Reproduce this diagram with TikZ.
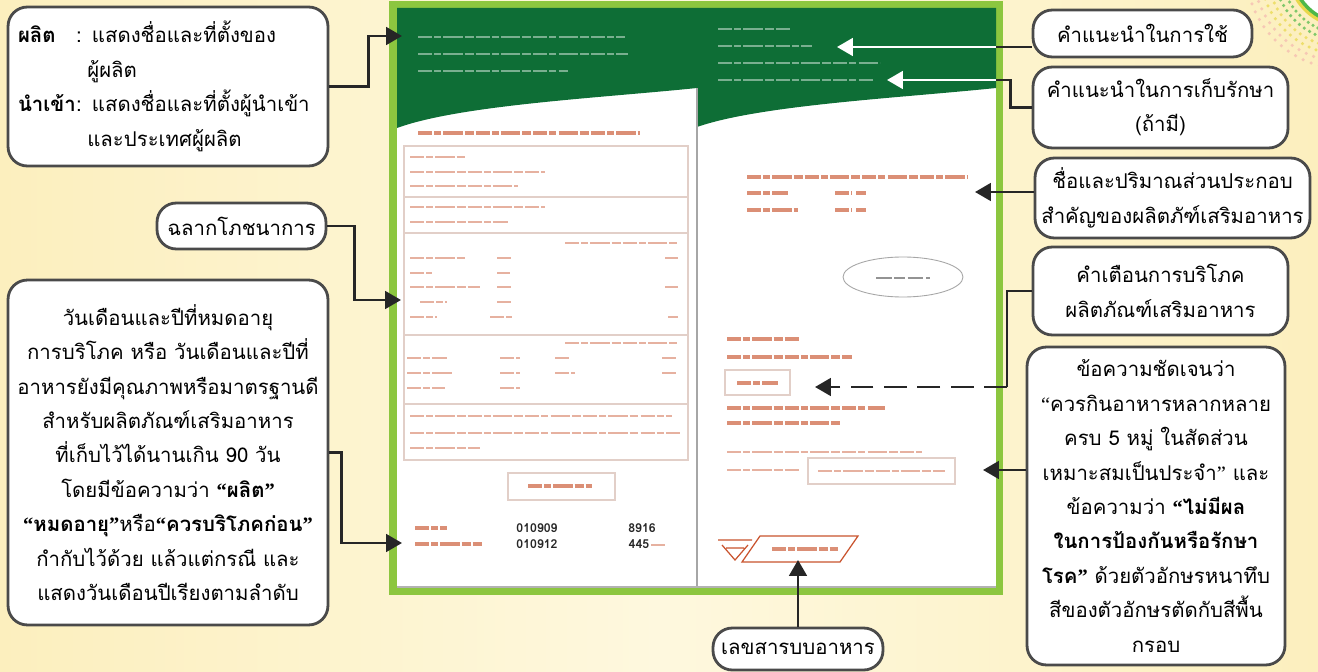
\documentclass[tikz,border=0pt]{standalone}
\usepackage{fontspec}
\setmainfont[Script=Thai]{Loma}
\newfontfamily\quotefont{Liberation Serif}
\newcommand{\oq}{{\quotefont“}}
\newcommand{\cq}{{\quotefont”}}
\usetikzlibrary{arrows.meta,calc}
\definecolor{bgyel}{HTML}{FCEFBE}
\definecolor{bglite}{HTML}{FEF8DE}
\definecolor{lblgreen}{HTML}{8CC63F}
\definecolor{darkgreen}{HTML}{0E6E36}
\definecolor{boxline}{HTML}{4A4A4A}
\definecolor{redtext}{HTML}{C9532E}
\definecolor{thinline}{HTML}{E2CFC8}
\definecolor{dotpink}{HTML}{F4B8B0}
\definecolor{dotgreen}{HTML}{4DB848}
\definecolor{dotyellow}{HTML}{E8D84A}

\begin{document}
\begin{tikzpicture}[
    x=0.02cm, y=-0.02cm, % one unit = one pixel of the layout
    callbox/.style={draw=boxline, fill=white, line width=1.6pt, rounded corners=11pt, inner sep=0pt, font=\fontsize{11.6}{19.6}\selectfont}, % callout boxes
    link/.style={draw=black!85, line width=1.5pt}, % plain connector
    callout/.style={link, -{Triangle[length=9pt,width=10pt]}}, % black arrow
    whitearrow/.style={draw=white, line width=1.5pt, -{Triangle[length=9pt,width=10pt]}}, % arrow on the green header
    redbar/.style={draw=redtext, line width=1.5pt, opacity=0.45, dash pattern=on 8pt off 1.2pt on 4pt off 1.2pt on 11pt off 1.2pt on 5pt off 1.2pt}, % unreadable small print
    redhead/.style={redbar, line width=2.2pt, opacity=0.65}, % unreadable bold print
    whitebar/.style={draw=white, line width=1.5pt, opacity=0.45, dash pattern=on 8pt off 1.2pt on 4pt off 1.2pt on 11pt off 1.2pt on 5pt off 1.2pt},
    thinbox/.style={draw=thinline, line width=0.6pt},
    numtext/.style={font=\fontsize{7}{8}\selectfont\bfseries, inner sep=0pt, text=black!85}
]
\clip (0,0) rectangle (1318,672);
\shade[left color=bgyel, right color=bgyel, middle color=bglite] (0,0) rectangle (1318,672);

% corner decoration
\foreach \r/\c in {64/dotgreen,71/dotgreen,78/dotyellow,85/dotyellow,92/dotpink,99/dotpink}
  \foreach \a in {95,100,...,175}
    \fill[\c, opacity=0.7, shift={(1345,-30)}] (\a:\r) circle (1pt);
\fill[dotyellow] (1345,-30) circle (1.16cm);
\filldraw[fill=white, draw=dotgreen, line width=2pt] (1345,-30) circle (1.06cm);

% product label
\fill[lblgreen] (389,1) rectangle (1003,595);
\fill[white] (397,8) rectangle (996,588);
\fill[darkgreen] (397,8) -- (697,8) -- (697,88) .. controls (600,98) and (460,105) .. (397,128) -- cycle;
\fill[darkgreen] (697,8) -- (996,8) -- (996,88) .. controls (900,98) and (760,105) .. (697,127) -- cycle;
\draw[gray!70, line width=0.8pt] (697,88) -- (697,588);
\draw[gray!60, line width=0.8pt] (397,587) -- (996,587);

% left half
\foreach \xa/\xb/\yy in {418/625/37, 418/628/54, 418/568/71}
  \draw[whitebar] (\xa,\yy) -- (\xb,\yy);
\draw[redhead] (418,133) -- (640,133);
\draw[thinbox] (404,146) rectangle (688,460);
\foreach \yy in {197,233,335,404}
  \draw[thinbox] (404,\yy) -- (688,\yy);
\foreach \xa/\xb/\yy in {410/465/157, 410/545/172, 410/518/186, 410/545/207, 410/508/222,
    565/677/243, 410/465/258, 497/512/258, 665/678/258, 410/432/273, 497/510/273,
    410/480/287, 497/512/287, 665/678/287, 420/447/302, 497/512/302,
    410/437/317, 490/512/317, 668/678/317,
    565/677/343, 407/447/358, 500/520/358, 555/570/358, 662/678/358,
    407/452/373, 500/520/373, 555/575/373, 662/678/373, 407/445/388, 500/520/388,
    410/672/416, 410/680/433, 410/480/448}
  \draw[redbar] (\xa,\yy) -- (\xb,\yy);
\draw[thinbox] (508,473) rectangle (615,500);
\draw[redhead] (528,486) -- (592,486);
\draw[redhead] (415,528) -- (447,528);
\draw[redhead] (415,544) -- (482,544);
\node[numtext] (mfgdate) at (537,528) {010909};
\node[numtext] (mfglot) at (642,528) {8916};
\node[numtext] (expdate) at (537,544) {010912};
\node[numtext] (price) at (639,544) {445};
\draw[redbar] (651,545) -- (667,545);

% right half
\foreach \xa/\xb/\yy in {718/790/29, 718/812/46, 718/880/63, 718/873/80}
  \draw[whitebar] (\xa,\yy) -- (\xb,\yy);
\foreach \xa/\xb/\yy in {747/967/177, 747/788/193, 835/852/193, 856/866/193,
    747/798/210, 835/852/210, 856/866/210, 727/800/339, 727/852/357,
    737/778/383, 727/885/408, 727/840/423}
  \draw[redhead] (\xa,\yy) -- (\xb,\yy);
\draw[gray!70, line width=0.5pt] (903,277) ellipse [x radius=1.2cm, y radius=0.4cm];
\draw[black!70, line width=1.6pt, opacity=0.6, dash pattern=on 9pt off 1.5pt on 6pt off 1.5pt] (876,278) -- (930,278);
\draw[thinbox] (725,370) rectangle (790,395);
\draw[redbar] (727,452) -- (922,452);
\draw[redbar] (727,470) -- (800,470);
\draw[thinbox] (808,458) rectangle (955,484);
\draw[redbar] (818,471) -- (945,471);
% food number mark
\draw[redtext, line width=0.7pt] (760,536) -- (858,536) -- (840,562) -- (742,562) -- cycle;
\draw[redtext, line width=0.7pt] (718,540) -- (752,540) (722,545) -- (735,560) -- (748,545) (726,548) -- (744,548);
\draw[redhead] (772,549) -- (838,549);

% callout boxes
\node[callbox, minimum width=6.4cm, minimum height=3.18cm, text width=6.0cm, inner xsep=0.2cm, align=left] (maker) at (168,86.5)
  {\makebox[2.85em][l]{\textbf{ผลิต}}: แสดงชื่อและที่ตั้งของ\\
   \hspace*{3.4em}ผู้ผลิต\\
   \makebox[2.85em][l]{\textbf{นำเข้า}}: แสดงชื่อและที่ตั้งผู้นำเข้า\\
   \hspace*{3.4em}และประเทศผู้ผลิต};
\node[callbox, minimum width=3.38cm, minimum height=0.92cm] (nutri) at (241.5,226) {ฉลากโภชนาการ};
\node[callbox, minimum width=6.4cm, minimum height=6.9cm, align=center] (expiry) at (168,452.5)
  {วันเดือนและปีที่หมดอายุ\\
   การบริโภค หรือ วันเดือนและปีที่\\
   อาหารยังมีคุณภาพหรือมาตรฐานดี\\
   สำหรับผลิตภัณฑ์เสริมอาหาร\\
   ที่เก็บไว้ได้นานเกิน 90 วัน\\
   โดยมีข้อความว่า \textbf{\oq ผลิต\cq}\\
   \textbf{\oq หมดอายุ\cq}หรือ\textbf{\oq ควรบริโภคก่อน\cq}\\
   กำกับไว้ด้วย แล้วแต่กรณี และ\\
   แสดงวันเดือนปีเรียงตามลำดับ};
\node[callbox, minimum width=4.38cm, minimum height=0.94cm] (usage) at (1142.5,33.5) {คำแนะนำในการใช้};
\node[callbox, minimum width=5.1cm, minimum height=1.62cm, align=center] (storage) at (1160.5,107.5) {คำแนะนำในการเก็บรักษา\\(ถ้ามี)};
\node[callbox, minimum width=5.5cm, minimum height=1.6cm, align=center] (ingred) at (1172.5,198) {ชื่อและปริมาณส่วนประกอบ\\สำคัญของผลิตภัฑ์เสริมอาหาร};
\node[callbox, minimum width=5.1cm, minimum height=1.76cm, align=center] (warning) at (1160.5,291) {คำเตือนการบริโภค\\ผลิตภัณฑ์เสริมอาหาร};
\node[callbox, minimum width=5.16cm, minimum height=6.36cm, align=center] (message) at (1156,506)
  {ข้อความชัดเจนว่า\\
   \oq ควรกินอาหารหลากหลาย\\
   ครบ 5 หมู่ ในสัดส่วน\\
   เหมาะสมเป็นประจำ\cq{} และ\\
   ข้อความว่า \textbf{\oq ไม่มีผล}\\
   \textbf{ในการป้องกันหรือรักษา}\\
   \textbf{โรค\cq} ด้วยตัวอักษรหนาทึบ\\
   สีของตัวอักษรตัดกับสีพื้น\\
   กรอบ};
\node[callbox, minimum width=3.4cm, minimum height=0.84cm] (regno) at (798,649) {เลขสารบบอาหาร};

% connectors
\coordinate (tipMaker) at (402,36);
\coordinate (tipNutri) at (401,300);
\coordinate (tipExpiry) at (402,543);
\draw[callout] (maker.east) -- ++(39,0) |- (tipMaker);
\draw[callout] (nutri.east) -- ++(27,0) |- (tipNutri);
\draw[callout] (expiry.east) -- ++(12,0) |- (tipExpiry);

\coordinate (tipUsage) at (837,47);
\coordinate (edgeUsage) at (996,47);
\draw[link] (usage.west |- edgeUsage) -- (edgeUsage);
\draw[whitearrow] (edgeUsage) -- (tipUsage);
\coordinate (tipStorage) at (887,80);
\coordinate (edgeStorage) at (996,80);
\draw[link] (storage.west) -- ++(-21,0) |- (edgeStorage);
\draw[whitearrow] (edgeStorage) -- (tipStorage);
\coordinate (tipIngred) at (975,192);
\draw[callout] (ingred.west |- tipIngred) -- (tipIngred);
\coordinate (tipWarning) at (815,387);
\coordinate (bendWarning) at (1007,387);
\draw[link] (warning.west) -| (bendWarning);
\draw[callout, dash pattern=on 13pt off 6pt] (bendWarning) -- (tipWarning);
\coordinate (tipMessage) at (983,470);
\draw[callout] (message.west |- tipMessage) -- (tipMessage);
\coordinate (tipRegno) at (798,560);
\draw[callout] (regno.north) -- (tipRegno);
\end{tikzpicture}
\end{document}
